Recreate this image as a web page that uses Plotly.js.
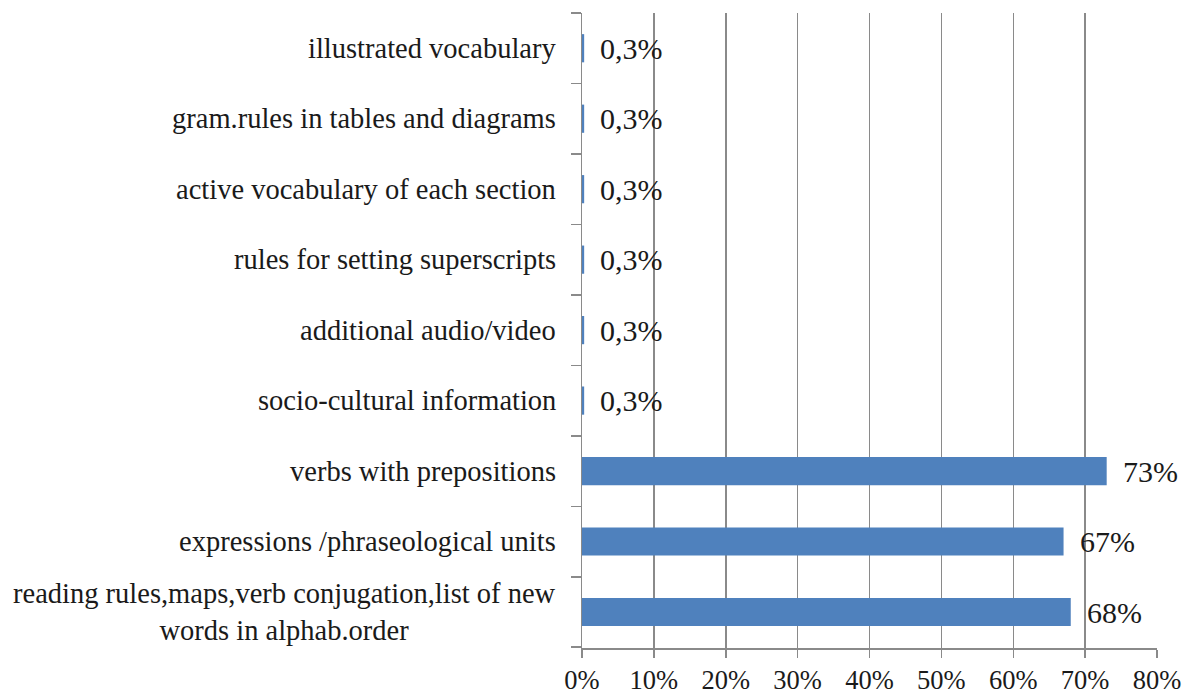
<!DOCTYPE html>
<html>
<head>
<meta charset="utf-8">
<script src="https://cdn.plot.ly/plotly-3.0.1.min.js"></script>
<style>html,body{margin:0;padding:0;background:#fff;}#chart{width:1199px;height:697px;}</style>
</head>
<body>
<div id="chart"></div>
<script>
// Categories listed bottom to top
const categories = [
  "reading rules,maps,verb conjugation,list of new<br>words in alphab.order",
  "expressions /phraseological units",
  "verbs with prepositions",
  "socio-cultural information",
  "additional audio/video",
  "rules for setting superscripts",
  "active vocabulary of each section",
  "gram.rules in tables and diagrams",
  "illustrated vocabulary"
];
const values = [68, 67, 73, 0.3, 0.3, 0.3, 0.3, 0.3, 0.3];
const valueLabels = ["68%", "67%", "73%", "0,3%", "0,3%", "0,3%", "0,3%", "0,3%", "0,3%"];
const xTickVals = [0, 10, 20, 30, 40, 50, 60, 70, 80];
const xTickText = ["0%", "10%", "20%", "30%", "40%", "50%", "60%", "70%", "80%"];

const FONT = "Liberation Serif, Times New Roman, serif";
const TXT = "#1a1a1a";
const GRID = "#8a8a8a";

const trace = {
  type: "bar",
  orientation: "h",
  x: values,
  y: categories,
  marker: {color: "#4F81BD"},
  hoverinfo: "none"
};

const annotations = [];
categories.forEach((c, i) => {
  annotations.push({
    x: 0, xref: "paper", y: c, yref: "y",
    text: c, showarrow: false, xanchor: "right", yanchor: "middle",
    xshift: -24, align: "center",
    font: {family: FONT, size: 28.5, color: TXT}
  });
  annotations.push({
    x: values[i], xref: "x", y: c, yref: "y",
    text: valueLabels[i], showarrow: false, xanchor: "left", yanchor: "middle",
    xshift: 14,
    font: {family: FONT, size: 30, color: TXT}
  });
});

const layout = {
  width: 1199, height: 697,
  margin: {l: 582, r: 42, t: 13, b: 49, pad: 0},
  paper_bgcolor: "#fff", plot_bgcolor: "#fff",
  showlegend: false,
  bargap: 0.6,
  font: {family: FONT, size: 26, color: TXT},
  xaxis: {
    range: [0, 80],
    tickvals: xTickVals, ticktext: xTickText,
    showgrid: true, gridcolor: GRID, gridwidth: 1.5,
    ticks: "outside", ticklen: 8, tickcolor: GRID, tickwidth: 1.5,
    showline: true, linecolor: GRID, linewidth: 1.5,
    zeroline: false,
    tickfont: {family: FONT, size: 26.5, color: TXT},
    fixedrange: true
  },
  yaxis: {
    type: "category",
    categoryorder: "array", categoryarray: categories,
    showticklabels: false,
    ticks: "outside", tickson: "boundaries", ticklen: 10, tickcolor: GRID, tickwidth: 1.5,
    showline: true, linecolor: GRID, linewidth: 1.5,
    showgrid: false, zeroline: false,
    fixedrange: true
  },
  annotations: annotations
};

Plotly.newPlot("chart", [trace], layout, {displayModeBar: false, staticPlot: true});
</script>
</body>
</html>
